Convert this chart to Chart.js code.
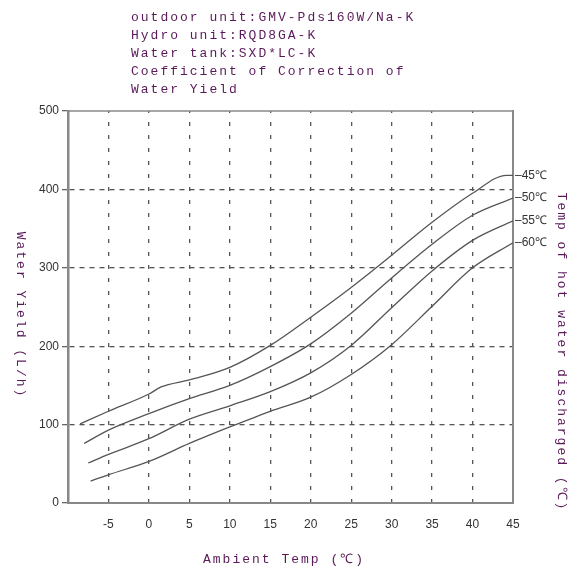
<!DOCTYPE html>
<html>
<head>
<meta charset="utf-8">
<script src="https://cdn.jsdelivr.net/npm/chart.js@4/dist/chart.umd.min.js"></script>
<style>
  html, body { margin: 0; padding: 0; background: #ffffff; }
  #wrap { width: 572px; height: 569px; }
</style>
</head>
<body>
<div id="wrap"><canvas id="c" width="572" height="569"></canvas></div>
<script>
// ---- Data ----
const headingLines = [
  "outdoor unit:GMV-Pds160W/Na-K",
  "Hydro unit:RQD8GA-K",
  "Water tank:SXD*LC-K",
  "Coefficient of Correction of",
  "Water Yield"
];
const xTitle = "Ambient Temp (\u2103)";
const yTitle = "Water Yield (L/h)";
const y2Title = "Temp of hot water discharged (\u2103)";

const seriesNames = ["45\u2103", "50\u2103", "55\u2103", "60\u2103"];

const ambient45 = [-8.5, -5, 0, 1.5, 5, 10, 15, 20, 25, 30, 35, 40, 44.2, 45];
const yield45   = [101, 117, 139, 148, 157, 173, 201, 237, 275, 316, 358, 395, 418, 418];

const ambient50 = [-8, -5, 0, 5, 10, 15, 20, 25, 30, 35, 40, 45];
const yield50   = [76, 93, 114, 133, 150, 174, 203, 242, 287, 330, 367, 389];

const ambient55 = [-7.5, -5, 0, 5, 10, 15, 20, 25, 30, 35, 40, 45];
const yield55   = [51, 62, 82, 107, 124, 142, 166, 201, 249, 296, 335, 360];

const ambient60 = [-7.2, -5, 0, 5, 10, 15, 20, 25, 30, 35, 40, 45];
const yield60   = [28, 36, 53, 76, 97, 117, 135, 164, 202, 251, 300, 332];

const xMin = -10, xMax = 45, xStep = 5;
const yMin = 0, yMax = 500, yStep = 100;

// ---- Build datasets ----
function pts(xs, ys) { return xs.map((x, i) => ({ x: x, y: ys[i] })); }
const allX = [ambient45, ambient50, ambient55, ambient60];
const allY = [yield45, yield50, yield55, yield60];
const endValues = allY.map(a => a[a.length - 1]);

const datasets = seriesNames.map((name, i) => ({
  label: name,
  data: pts(allX[i], allY[i]),
  borderColor: '#555555',
  borderWidth: 1.3,
  pointRadius: 0,
  fill: false,
  cubicInterpolationMode: 'monotone'
}));

const purple = '#5a1a5a';
const monoFont = '13px "Liberation Mono", "DejaVu Sans Mono", monospace';
const numFont = { family: '"Liberation Sans Narrow", "Liberation Sans", Arial, sans-serif', size: 12 };

const textPlugin = {
  id: 'textPlugin',
  afterDraw(chart) {
    const ctx = chart.ctx;
    const a = chart.chartArea;
    ctx.save();
    // top border
    ctx.strokeStyle = '#888888';
    ctx.lineWidth = 1.5;
    ctx.beginPath();
    ctx.moveTo(a.left, a.top);
    ctx.lineTo(a.right, a.top);
    ctx.stroke();

    ctx.fillStyle = purple;
    ctx.font = monoFont;
    try { ctx.letterSpacing = '2px'; } catch (e) {}
    ctx.textBaseline = 'middle';
    ctx.textAlign = 'left';
    headingLines.forEach((t, i) => ctx.fillText(t, 131, 18 + i * 18));

    // x title
    ctx.textAlign = 'center';
    ctx.fillText(xTitle, 284, 560);

    // left y title (reads top to bottom)
    ctx.save();
    ctx.translate(20, 315);
    ctx.rotate(Math.PI / 2);
    ctx.fillText(yTitle, 0, 0);
    ctx.restore();

    // right title (reads top to bottom)
    ctx.save();
    ctx.translate(561, 352);
    ctx.rotate(Math.PI / 2);
    ctx.fillText(y2Title, 0, 0);
    ctx.restore();
    ctx.restore();
  }
};

new Chart(document.getElementById('c'), {
  type: 'line',
  data: { datasets: datasets },
  options: {
    responsive: false,
    animation: false,
    layout: { padding: { top: 111, left: 0, right: 0, bottom: 0 } },
    plugins: { legend: { display: false }, tooltip: { enabled: false }, title: { display: false } },
    scales: {
      x: {
        type: 'linear',
        min: xMin, max: xMax,
        afterFit(s) { s.height = 66; },
        ticks: {
          stepSize: xStep,
          color: '#333333',
          font: numFont,
          padding: 14,
          maxRotation: 0,
          callback: v => (v === xMin ? '' : v)
        },
        grid: {
          color: ctx => (ctx.tick && (ctx.tick.value === xMin || ctx.tick.value === xMax)) ? 'rgba(0,0,0,0)' : '#555555',
          lineWidth: 1.3,
          drawTicks: false,
          tickLength: 0
        },
        border: { display: true, color: '#888888', width: 2, dash: [4, 9], dashOffset: 2 },
        title: { display: false }
      },
      y: {
        type: 'linear',
        position: 'left',
        min: yMin, max: yMax,
        afterFit(s) { s.width = 68; },
        ticks: { stepSize: yStep, color: '#333333', font: numFont, padding: 3 },
        grid: {
          color: ctx => (ctx.tick && (ctx.tick.value === yMin || ctx.tick.value === yMax)) ? 'rgba(0,0,0,0)' : '#555555',
          lineWidth: 1.3,
          drawTicks: true,
          tickLength: 6,
          tickColor: '#666666'
        },
        border: { display: true, color: '#888888', width: 2.5, dash: [5, 5] },
        title: { display: false }
      },
      y2: {
        type: 'linear',
        position: 'right',
        min: yMin, max: yMax,
        afterFit(s) { s.width = 59; },
        afterBuildTicks(s) { s.ticks = endValues.map(v => ({ value: v })); },
        ticks: {
          color: '#333333',
          font: numFont,
          padding: 2,
          callback: (v, i) => '\u2013' + seriesNames[i]
        },
        grid: { drawOnChartArea: false, drawTicks: false, tickLength: 4 },
        border: { display: true, color: '#888888', width: 2 },
        title: { display: false }
      }
    }
  },
  plugins: [textPlugin]
});
</script>
</body>
</html>
